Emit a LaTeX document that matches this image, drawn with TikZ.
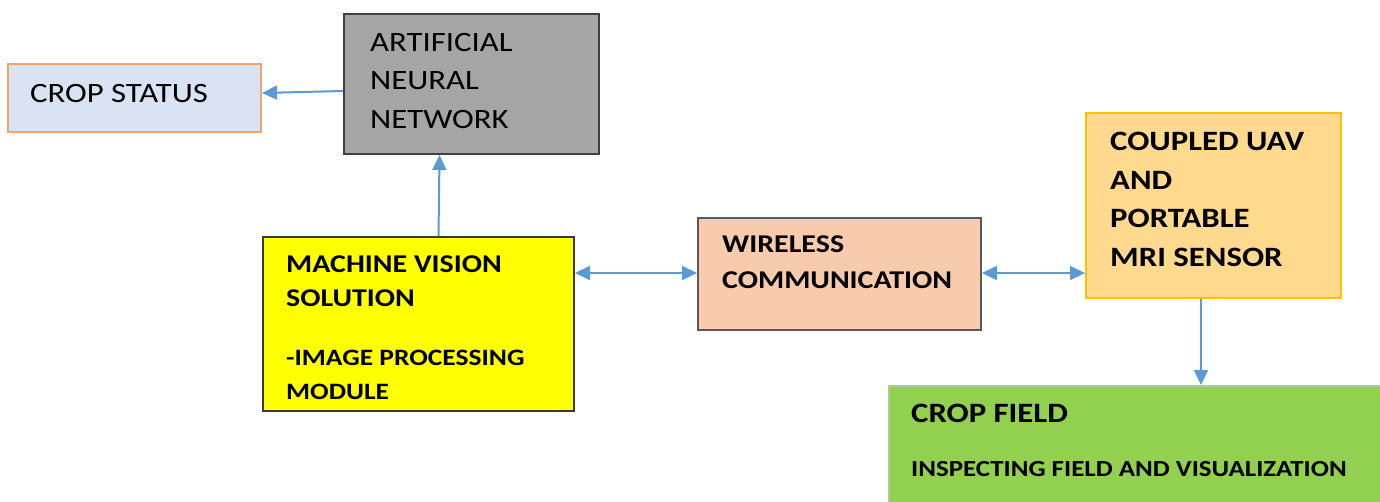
\documentclass[tikz,border=0pt]{standalone}
\usepackage{fontspec}
\setmainfont[FakeStretch=1.17]{Carlito}
\usetikzlibrary{arrows.meta,calc}
\definecolor{arrowblue}{HTML}{5B9BD5}
\definecolor{csfill}{HTML}{DAE3F3}
\definecolor{csdraw}{HTML}{F4A46A}
\definecolor{annfill}{HTML}{A5A5A5}
\definecolor{anndraw}{HTML}{404040}
\definecolor{mvfill}{HTML}{FFFF00}
\definecolor{mvdraw}{HTML}{3A3A3A}
\definecolor{wcfill}{HTML}{F8CBAD}
\definecolor{wcdraw}{HTML}{5A5A5A}
\definecolor{uavfill}{HTML}{FFD98E}
\definecolor{uavdraw}{HTML}{FFC000}
\definecolor{cffill}{HTML}{92D050}
\definecolor{cfdraw}{HTML}{A9D18E}
\tikzset{
  box/.style={draw, line width=2pt, inner sep=0pt, anchor=north west},
  txt/.style={anchor=north west, inner sep=0pt, align=left, text=black},
  regtxt/.style={txt, font=\fontsize{28}{38.5}\selectfont},
  bigbold/.style={txt, font=\fontsize{28}{38.5}\selectfont\bfseries},
  tip/.tip={Triangle[length=15pt,width=14pt]},
  arr/.style={draw=arrowblue, line width=2pt, -tip},
  arrtwo/.style={draw=arrowblue, line width=2pt, tip-tip}
}
\begin{document}
\begin{tikzpicture}[x=1pt,y=-1pt]
\useasboundingbox (0,0) rectangle (1380,501);
\fill[white] (0,0) rectangle (1380,501);
% boxes
\node[box, draw=csdraw, fill=csfill, minimum width=253pt, minimum height=68pt] (cs) at (7,63) {};
\node[box, draw=anndraw, fill=annfill, minimum width=255pt, minimum height=140pt] (ann) at (343,13) {};
\node[box, draw=mvdraw, fill=mvfill, minimum width=311pt, minimum height=174pt] (mv) at (262,236) {};
\node[box, draw=wcdraw, fill=wcfill, minimum width=283pt, minimum height=112pt] (wc) at (697,217) {};
\node[box, draw=uavdraw, fill=uavfill, minimum width=255pt, minimum height=185pt] (uav) at (1085,112) {};
\node[box, draw=cfdraw, fill=cffill, minimum width=500pt, minimum height=130pt] (cf) at (888,385) {};
% texts
\node[regtxt] (cst) at (30,84) {CROP STATUS};
\node[regtxt] (annt) at (370,33) {ARTIFICIAL\\NEURAL\\NETWORK};
\node[txt, font=\fontsize{25.6}{34}\selectfont\bfseries] (mvt) at (286,256)
  {MACHINE VISION\\SOLUTION\\[25pt]\fontsize{23.5}{34}\selectfont -IMAGE PROCESSING\\\fontsize{23.5}{34}\selectfont MODULE};
\node[txt, font=\fontsize{25.6}{36}\selectfont\bfseries] (wct) at (722,236) {WIRELESS\\COMMUNICATION};
\node[bigbold] (uavt) at (1110,132) {COUPLED UAV\\AND\\PORTABLE\\MRI SENSOR};
\node[bigbold] (cft) at (911,404) {CROP FIELD};
\node[txt, font=\fontsize{23}{28}\selectfont\bfseries] (cfst) at (911,461) {INSPECTING FIELD AND VISUALIZATION};
% connectors
\draw[arr] ([yshift=-7pt]ann.west) -- ([yshift=5pt]cs.east);
\draw[arr] ([xshift=20pt]mv.north) -- ([xshift=-32pt]ann.south);
\draw[arrtwo] ([yshift=51pt]mv.east) -- ([yshift=1pt]wc.east -| wc.west);
\draw[arrtwo] ([yshift=1pt]wc.east) -- ([yshift=1pt]wc.east -| uav.west);
\draw[arr] ([xshift=-12.5pt]uav.south) -- ([xshift=-12.5pt]uav.south |- cf.north);
\end{tikzpicture}
\end{document}
